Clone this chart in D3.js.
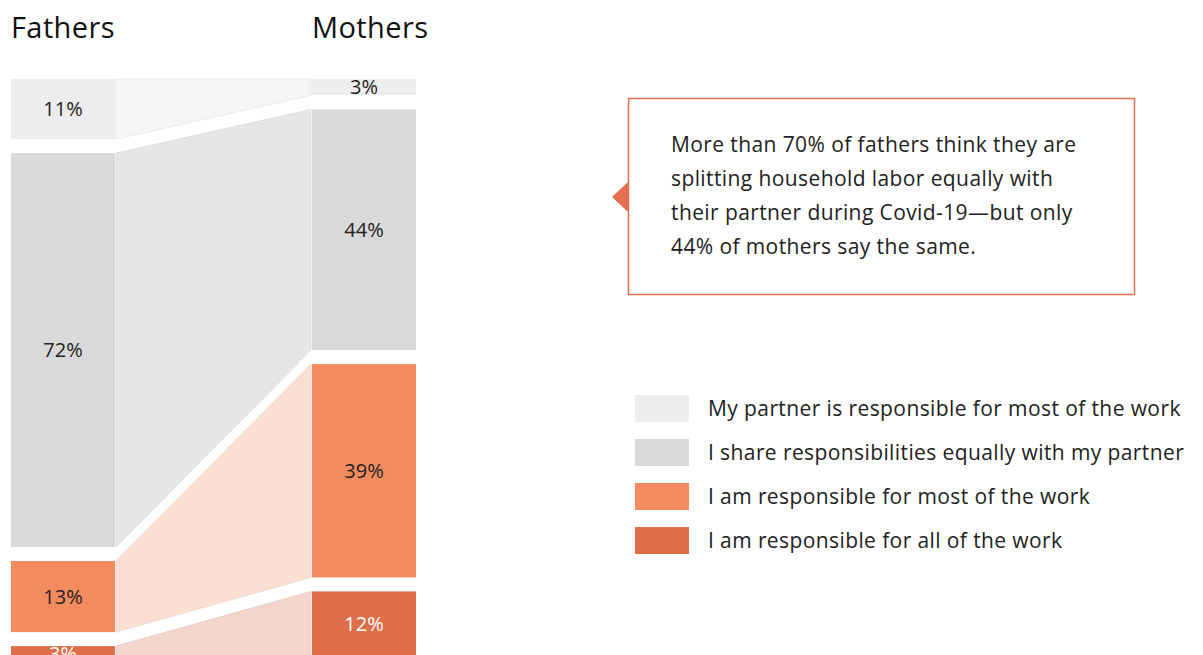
<!DOCTYPE html>
<html>
<head>
<meta charset="utf-8">
<script src="https://cdn.jsdelivr.net/npm/d3@7"></script>
<style>
  body { margin: 0; background: #fff; }
  svg { display: block; font-family: "Open Sans", Lato, sans-serif; }
</style>
</head>
<body>
<div id="chart"></div>
<script>
var groups = ["Fathers", "Mothers"];
var categories = [
    "My partner is responsible for most of the work",
    "I share responsibilities equally with my partner",
    "I am responsible for most of the work",
    "I am responsible for all of the work"
];
var fathers = [11, 72, 13, 3];
var mothers = [3, 44, 39, 12];
var barColors = ["#ededed", "#d9d9d9", "#f48b5f", "#df6f4a"];
var flowColors = ["#f5f6f6", "#e6e6e6", "#fcdfd3", "#f4d5cc"];
var labelColors = ["#222", "#222", "#222", "#fff"];
var note = [
    "More than 70% of fathers think they are",
    "splitting household labor equally with",
    "their partner during Covid-19\u2014but only",
    "44% of mothers say the same."
];

var width = 1203, height = 655;
var barW = 104, gap = 14, topY = 79;

var svg = d3.select("#chart").append("svg")
    .attr("width", width)
    .attr("height", height);

var x = d3.scaleOrdinal().domain(groups).range([11, 312]);
var y = d3.scaleLinear().domain([0, 100]).range([0, 547]);

// stack each column with a small gap between the blocks
function stack(vals) {
    var out = [], pos = topY;
    vals.forEach(function (v, i) {
        out.push({ i: i, v: v, y0: pos, y1: pos + y(v) });
        pos += y(v) + gap;
    });
    return out;
}
var cols = { Fathers: stack(fathers), Mothers: stack(mothers) };

// flows between the two columns
var fx0 = x("Fathers") + barW + 1, fx1 = x("Mothers") - 1;
svg.append("g").selectAll("path")
    .data(d3.range(categories.length))
    .enter().append("path")
    .attr("d", function (i) {
        var a = cols.Fathers[i], b = cols.Mothers[i];
        return "M" + fx0 + "," + a.y0 + "L" + fx1 + "," + b.y0 +
            "L" + fx1 + "," + b.y1 + "L" + fx0 + "," + a.y1 + "Z";
    })
    .attr("fill", function (i) { return flowColors[i]; })
    .attr("stroke", function (i) { return d3.color(flowColors[i]).darker(0.25); })
    .attr("stroke-width", 0.6);

groups.forEach(function (g) {
    var gg = svg.append("g");
    gg.append("text")
        .attr("x", x(g))
        .attr("y", 38)
        .attr("font-size", 29)
        .attr("letter-spacing", 0.4)
        .attr("fill", "#111")
        .text(g);
    gg.selectAll("rect")
        .data(cols[g])
        .enter().append("rect")
        .attr("x", x(g))
        .attr("y", d => d.y0)
        .attr("width", barW)
        .attr("height", d => d.y1 - d.y0)
        .attr("fill", d => barColors[d.i]);
    gg.selectAll("text.lbl")
        .data(cols[g])
        .enter().append("text")
        .attr("class", "lbl")
        .attr("x", x(g) + barW / 2)
        .attr("y", d => (d.y0 + d.y1) / 2)
        .attr("dy", "0.35em")
        .attr("text-anchor", "middle")
        .attr("font-size", 20)
        .attr("fill", d => labelColors[d.i])
        .text(d => d.v + "%");
});

// callout
var box = svg.append("g");
box.append("rect")
    .attr("x", 628.5).attr("y", 98.5)
    .attr("width", 506).attr("height", 196)
    .attr("fill", "#fff")
    .attr("stroke", "#e2704f")
    .attr("stroke-width", 1.5);
box.append("path")
    .attr("d", "M628,182L612,197L628,212Z")
    .attr("fill", "#e2704f");
box.selectAll("text")
    .data(note)
    .enter().append("text")
    .attr("x", 671)
    .attr("y", (d, i) => 152 + i * 34)
    .attr("font-size", 21)
    .attr("letter-spacing", 0.4)
    .attr("fill", "#222")
    .text(d => d);

// legend
var leg = svg.append("g").selectAll("g")
    .data(categories)
    .enter().append("g")
    .attr("transform", (d, i) => "translate(635," + (395 + i * 44) + ")");
leg.append("rect")
    .attr("width", 54).attr("height", 27)
    .attr("fill", (d, i) => barColors[i]);
leg.append("text")
    .attr("x", 73).attr("y", 13.5)
    .attr("dy", "0.35em")
    .attr("font-size", 21)
    .attr("letter-spacing", 0.4)
    .attr("fill", "#222")
    .text(d => d);
</script>
</body>
</html>
